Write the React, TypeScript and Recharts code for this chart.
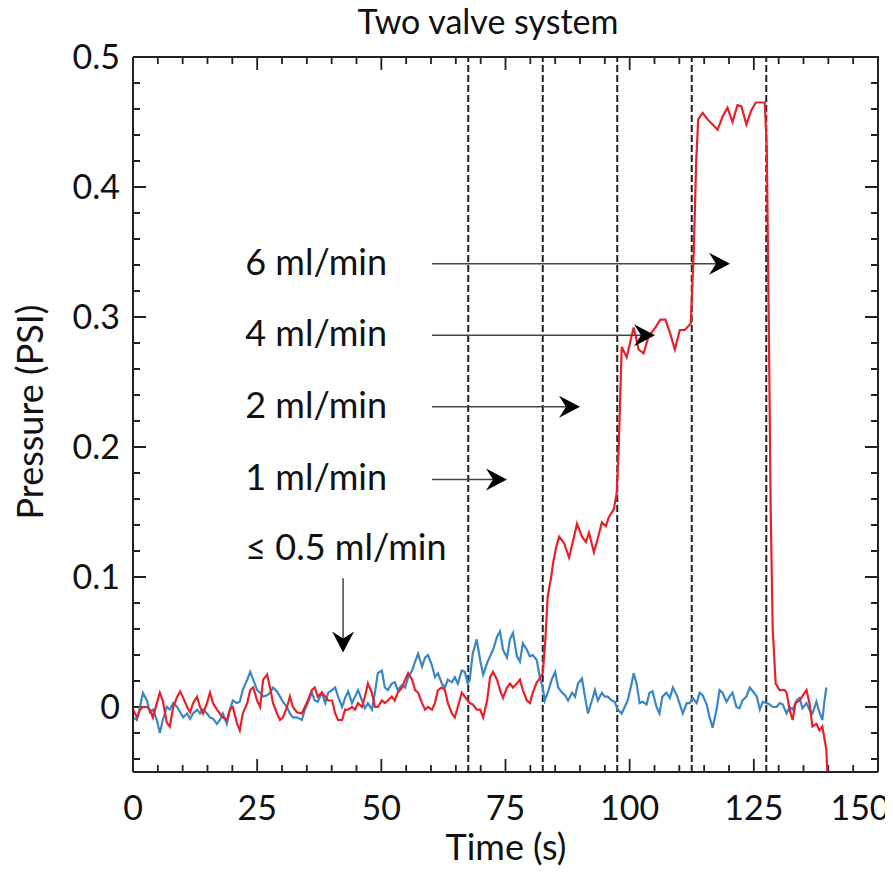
import { Line, LineChart, ReferenceDot, ReferenceLine, XAxis, YAxis } from "recharts"

// blue trace (s, PSI)
const blueTime = [
  0.0, 0.8, 1.4, 2.0, 2.8, 3.4, 4.0, 4.8, 5.4, 6.0,
  6.8, 7.4, 8.1, 8.9, 9.5, 10.1, 10.9, 11.5, 12.1, 12.9,
  13.5, 14.1, 14.9, 15.5, 16.1, 16.9, 17.5, 18.1, 18.9, 19.5,
  20.1, 20.9, 21.5, 22.1, 23.0, 23.6, 24.2, 25.0, 25.6, 26.2,
  27.0, 27.6, 28.2, 29.0, 29.6, 30.2, 31.0, 31.6, 32.2, 33.0,
  34.0, 34.6, 35.2, 36.0, 36.6, 37.2, 38.0, 38.7, 39.3, 40.1,
  40.7, 41.3, 42.1, 42.7, 43.3, 44.1, 44.7, 45.3, 46.1, 46.7,
  47.3, 48.1, 48.7, 49.3, 50.1, 50.7, 51.3, 52.1, 52.7, 53.3,
  54.2, 54.8, 55.4, 56.2, 56.8, 57.4, 58.2, 58.8, 59.4, 60.2,
  60.8, 61.4, 62.2, 62.8, 63.4, 64.2, 64.8, 65.4, 66.2, 66.8,
  67.4, 67.8, 68.4, 69.2, 69.9, 70.5, 71.3, 71.9, 72.5, 73.3,
  73.9, 74.5, 75.3, 75.9, 76.5, 77.3, 77.9, 78.5, 79.3, 79.9,
  80.5, 81.3, 81.9, 82.5, 82.9, 83.5, 84.3, 85.0, 85.6, 86.4,
  87.0, 87.6, 88.4, 89.0, 89.6, 90.4, 91.0, 91.6, 92.4, 93.0,
  93.6, 94.4, 95.0, 95.6, 96.4, 97.0, 97.6, 98.4, 99.0, 99.6,
  100.4, 100.8, 101.4, 102.0, 102.6, 103.4, 104.0, 104.6, 105.4, 106.0,
  106.6, 107.4, 108.1, 108.7, 109.5, 110.1, 110.7, 111.5, 112.1, 112.7,
  113.5, 114.1, 114.7, 115.5, 116.1, 116.7, 117.5, 118.1, 118.7, 119.5,
  120.1, 120.7, 121.5, 122.1, 122.7, 123.5, 124.2, 124.8, 125.6, 126.2,
  126.8, 127.6, 128.2, 128.8, 129.6, 130.2, 130.8, 131.6, 132.2, 132.8,
  133.6, 134.2, 134.8, 135.6, 136.2, 136.8, 137.6, 138.2, 138.8, 139.2,
  139.6,
]
const bluePressure = [
  -0.008, -0.01, 0.0, 0.011, 0.005, -0.004, -0.002, -0.01, -0.02, -0.01,
  0.0, -0.002, 0.003, 0.0, -0.004, -0.008, -0.005, -0.009, -0.005, -0.002,
  -0.005, -0.002, -0.005, -0.008, -0.009, -0.013, -0.01, -0.005, -0.013, -0.002,
  0.005, 0.003, 0.004, 0.013, 0.021, 0.027, 0.021, 0.013, 0.011, 0.008,
  0.009, 0.011, 0.015, 0.012, 0.008, 0.004, 0.0, -0.005, -0.008, -0.008,
  -0.01, -0.002, 0.003, 0.011, 0.005, 0.004, 0.011, 0.003, 0.011, 0.013,
  0.015, 0.008, 0.0, 0.007, 0.012, 0.003, 0.008, 0.013, 0.005, -0.001,
  0.003, -0.002, 0.011, 0.026, 0.028, 0.015, 0.013, 0.018, 0.019, 0.013,
  0.017, 0.015, 0.023, 0.028, 0.035, 0.041, 0.031, 0.038, 0.04, 0.032,
  0.023, 0.026, 0.018, 0.015, 0.021, 0.019, 0.023, 0.018, 0.028, 0.027,
  0.018, 0.021, 0.041, 0.052, 0.036, 0.025, 0.034, 0.039, 0.044, 0.054,
  0.058, 0.044, 0.038, 0.052, 0.057, 0.039, 0.035, 0.049, 0.044, 0.039,
  0.04, 0.036, 0.023, 0.015, 0.005, 0.011, 0.021, 0.027, 0.015, 0.011,
  0.009, 0.005, 0.011, 0.008, 0.018, 0.022, 0.008, -0.005, 0.005, 0.013,
  0.005, 0.011, 0.008, 0.008, 0.005, 0.004, -0.002, -0.005, 0.0, 0.005,
  0.018, 0.026, 0.018, 0.003, 0.004, 0.002, 0.011, 0.012, 0.0, -0.005,
  0.008, 0.011, 0.007, 0.015, 0.009, 0.002, -0.005, 0.003, 0.003, 0.007,
  0.003, 0.011, 0.009, 0.002, -0.008, -0.016, -0.002, 0.013, 0.011, 0.004,
  0.008, 0.011, 0.0, -0.001, 0.005, 0.008, 0.015, 0.012, 0.008, -0.002,
  0.004, 0.003, 0.002, 0.0, 0.0, 0.003, 0.002, -0.005, 0.0, -0.002,
  0.005, 0.007, -0.001, 0.003, -0.002, -0.005, 0.004, -0.004, -0.01, 0.004,
  0.015,
]

// red trace (s, PSI)
const redTime = [
  0.0, 0.8, 1.4, 2.0, 2.8, 3.4, 4.0, 4.8, 5.4, 6.0,
  6.8, 7.4, 8.1, 8.9, 9.5, 10.1, 10.9, 11.5, 12.1, 12.9,
  13.5, 14.1, 14.9, 15.5, 16.1, 16.9, 17.5, 18.1, 18.9, 19.5,
  20.1, 20.9, 21.5, 22.1, 23.0, 23.6, 24.2, 25.0, 25.6, 26.2,
  27.0, 27.6, 28.2, 29.0, 29.6, 30.2, 31.0, 31.6, 32.2, 33.0,
  34.0, 34.6, 35.2, 36.0, 36.6, 37.2, 38.0, 38.7, 39.3, 40.1,
  40.7, 41.3, 42.1, 42.7, 43.3, 44.1, 44.7, 45.3, 46.1, 46.7,
  47.3, 48.1, 48.7, 49.3, 50.1, 50.7, 51.3, 52.1, 52.7, 53.3,
  54.2, 54.8, 55.4, 56.2, 56.8, 57.4, 58.2, 58.8, 59.4, 60.2,
  60.8, 61.4, 62.2, 62.8, 63.4, 64.2, 64.8, 65.4, 66.2, 66.8,
  67.4, 67.8, 68.4, 69.2, 69.9, 70.5, 71.3, 71.9, 72.5, 73.3,
  73.9, 74.5, 75.3, 75.9, 76.5, 77.3, 77.9, 78.5, 79.3, 79.9,
  80.5, 81.3, 81.9, 82.5, 83.0, 83.5, 84.2, 84.6, 85.2, 85.8,
  86.8, 87.8, 88.8, 89.4, 90.4, 91.2, 91.8, 92.8, 93.4, 94.4,
  95.2, 95.8, 96.8, 97.4, 97.8, 98.2, 98.4, 99.4, 100.8, 101.8,
  102.8, 103.8, 105.2, 106.2, 107.2, 108.1, 109.1, 110.1, 111.1, 112.3,
  112.9, 113.4, 113.8, 114.7, 115.7, 116.7, 117.7, 118.7, 119.7, 120.7,
  121.7, 122.5, 123.5, 124.5, 125.4, 126.6, 127.2, 127.6, 128.0, 128.4,
  128.8, 129.4, 130.2, 131.2, 131.6, 132.2, 132.8, 133.4, 134.2, 135.6,
  136.2, 136.8, 137.6, 138.2, 138.8, 139.2, 139.6, 139.8,
]
const redPressure = [
  -0.002, -0.008, -0.002, 0.0, 0.0, -0.002, -0.008, 0.003, 0.011, 0.005,
  -0.012, -0.015, 0.0, 0.008, 0.012, 0.007, 0.0, -0.004, 0.003, 0.008,
  0.0, -0.005, 0.003, 0.011, 0.003, -0.002, -0.005, -0.008, -0.01, -0.002,
  0.0, -0.012, -0.018, -0.005, 0.003, 0.013, 0.015, 0.005, 0.0, 0.021,
  0.025, 0.015, 0.003, -0.005, -0.01, -0.008, 0.0, 0.008, 0.0, -0.004,
  -0.005, 0.0, 0.005, 0.013, 0.015, 0.008, 0.011, 0.008, 0.005, 0.005,
  -0.005, -0.01, -0.01, -0.002, -0.002, 0.0, -0.002, 0.003, 0.0, 0.008,
  0.018, 0.011, 0.0, 0.0, 0.005, 0.003, 0.005, 0.008, 0.005, 0.011,
  0.015, 0.021, 0.026, 0.021, 0.013, 0.011, 0.003, -0.002, 0.0, -0.002,
  0.003, 0.013, 0.015, 0.013, 0.003, -0.005, -0.008, 0.0, 0.011, 0.008,
  0.005, 0.003, 0.002, -0.002, -0.002, -0.008, 0.005, 0.023, 0.027, 0.021,
  0.013, 0.007, 0.015, 0.018, 0.015, 0.018, 0.021, 0.013, 0.005, 0.003,
  0.011, 0.019, 0.022, 0.026, 0.05, 0.085, 0.1, 0.111, 0.123, 0.131,
  0.126, 0.115, 0.131, 0.141, 0.131, 0.127, 0.134, 0.119, 0.127, 0.142,
  0.139, 0.146, 0.152, 0.165, 0.2, 0.252, 0.277, 0.269, 0.292, 0.275,
  0.272, 0.285, 0.292, 0.298, 0.298, 0.288, 0.275, 0.29, 0.29, 0.295,
  0.35, 0.42, 0.452, 0.457, 0.452, 0.448, 0.444, 0.454, 0.461, 0.45,
  0.463, 0.462, 0.448, 0.459, 0.465, 0.465, 0.465, 0.43, 0.3, 0.15,
  0.06, 0.018, 0.013, 0.013, 0.011, -0.002, -0.01, 0.003, 0.005, 0.013,
  0.003, -0.015, -0.013, -0.018, -0.015, -0.024, -0.033, -0.05,
]

const xTicks = [0, 5, 10, 15, 20, 25, 30, 35, 40, 45, 50, 55, 60, 65, 70, 75, 80, 85, 90, 95, 100, 105, 110, 115, 120, 125, 130, 135, 140, 145, 150]
const yTicks = [-0.04, -0.02, 0, 0.02, 0.04, 0.06, 0.08, 0.1, 0.12, 0.14, 0.16, 0.18, 0.2, 0.22, 0.24, 0.26, 0.28, 0.3, 0.32, 0.34, 0.36, 0.38, 0.4, 0.42, 0.44, 0.46, 0.48, 0.5]

// valve switch times (dashed lines)
const valveTimes = [67.5, 82.5, 97.5, 112.5, 127.5]

// flow annotations
const flowLabels = ["6 ml/min", "4 ml/min", "2 ml/min", "1 ml/min"]
const flowLabelY = [0.342, 0.288, 0.232, 0.177]
const flowArrowY = [0.341, 0.286, 0.231, 0.175]
const flowArrowEnd = [120.2, 105.1, 90.0, 75.3]
const flowArrowStart = 60.2
const flowLabelX = 22.6
const lowFlowLabel = "≤ 0.5 ml/min"
const lowFlowLabelY = 0.123
const lowFlowArrow = { x: 42.3, from: 0.099, to: 0.042 }

const X_MIN = 0
const X_MAX = 150
const Y_MIN = -0.05
const Y_MAX = 0.5

const blueData = blueTime.map((t, i) => ({ t, p: bluePressure[i] }))
const redData = redTime.map((t, i) => ({ t, p: redPressure[i] }))

const W = 885
const H = 864
const MARGIN = { top: 49, right: 15, bottom: 40, left: 45 }
const PLOT_LEFT = 125

// plot is 745 x 715 px, so one pixel in data units:
const PX_X = (X_MAX - X_MIN) / 745
const PX_Y = (Y_MAX - Y_MIN) / 715

const INK = "#222"
const FONT = "Lato, 'Open Sans', sans-serif"
const TICK_FONT = 34
const TEXT_FONT = 36

const isMajorX = (v: number) => v % 25 === 0
const isMajorY = (v: number) => Math.abs(v * 10 - Math.round(v * 10)) < 1e-6
const tickLen = (major: boolean) => (major ? 13 : 7)

// top and right edges of the box
const frameData = [
  { t: X_MIN, p: Y_MAX },
  { t: X_MAX, p: Y_MAX },
  { t: X_MAX, p: Y_MIN },
]

// inward tick marks on all four sides, as broken polylines (null = gap)
const tickData: { t: number; p: number | null }[] = []
xTicks.forEach((v) => {
  const d = tickLen(isMajorX(v)) * PX_Y
  tickData.push({ t: v, p: Y_MIN }, { t: v, p: Y_MIN + d }, { t: v, p: null })
  tickData.push({ t: v, p: Y_MAX }, { t: v, p: Y_MAX - d }, { t: v, p: null })
})
yTicks.forEach((v) => {
  const d = tickLen(isMajorY(v)) * PX_X
  tickData.push({ t: X_MIN, p: v }, { t: X_MIN + d, p: v }, { t: X_MIN + d, p: null })
  tickData.push({ t: X_MAX, p: v }, { t: X_MAX - d, p: v }, { t: X_MAX - d, p: null })
})

function BottomLabel({ x, payload }: any) {
  const v = payload.value
  if (!isMajorX(v)) return <g />
  return (
    <text x={v === 150 ? x - 18 : x} y={764 + 48} textAnchor="middle" fontSize={TICK_FONT} fontFamily={FONT} fill="#111">
      {v}
    </text>
  )
}

function LeftLabel({ y, payload }: any) {
  const v = payload.value
  if (!isMajorY(v)) return <g />
  return (
    <text x={PLOT_LEFT - 13} y={y + 12} textAnchor="end" fontSize={TICK_FONT} fontFamily={FONT} fill="#111">
      {Math.abs(v) < 1e-9 ? "0" : v.toFixed(1)}
    </text>
  )
}

function Arrow({ x1, y1, x2, y2 }: any) {
  const ang = Math.atan2(y2 - y1, x2 - x1)
  const len = 21
  const half = 11
  const notch = 14
  const ux = Math.cos(ang)
  const uy = Math.sin(ang)
  const bx = x2 - ux * len
  const by = y2 - uy * len
  const pts = [
    [x2, y2],
    [bx - uy * half, by + ux * half],
    [x2 - ux * notch, y2 - uy * notch],
    [bx + uy * half, by - ux * half],
  ]
  return (
    <g>
      <line x1={x1} y1={y1} x2={x2 - ux * notch} y2={y2 - uy * notch} stroke="#444" strokeWidth={1.5} />
      <polygon points={pts.map((p) => p.join(",")).join(" ")} fill="#000" />
    </g>
  )
}

function Note({ cx, cy, text }: any) {
  return (
    <text x={cx} y={cy} dy={13} fontSize={TEXT_FONT} fontFamily={FONT} fill="#111">
      {text}
    </text>
  )
}

export default function App() {
  return (
    <div style={{ position: "relative", width: W, height: H }}>
      <LineChart width={W} height={H} margin={MARGIN}>
        <XAxis
          dataKey="t"
          type="number"
          domain={[X_MIN, X_MAX]}
          ticks={xTicks}
          interval={0}
          height={60}
          tickLine={false}
          axisLine={{ stroke: INK, strokeWidth: 2 }}
          tick={BottomLabel}
          label={{
            content: () => (
              <text x={498} y={852} textAnchor="middle" fontSize={TEXT_FONT} fontFamily={FONT} fill="#111">
                Time (s)
              </text>
            ),
          }}
        />
        <YAxis
          type="number"
          domain={[Y_MIN, Y_MAX]}
          ticks={yTicks}
          interval={0}
          width={80}
          tickLine={false}
          axisLine={{ stroke: INK, strokeWidth: 2 }}
          tick={LeftLabel}
          label={{
            content: () => (
              <text x={35} y={404} transform="rotate(-90, 35, 404)" textAnchor="middle" fontSize={TEXT_FONT} fontFamily={FONT} fill="#111">
                Pressure (PSI)
              </text>
            ),
          }}
        />
        {valveTimes.map((v) => (
          <ReferenceLine key={"valve" + v} x={v} stroke="#222" strokeWidth={2} strokeDasharray="7 3" />
        ))}
        <Line data={frameData} dataKey="p" type="linear" stroke={INK} strokeWidth={2} dot={false} activeDot={false} isAnimationActive={false} />
        <Line data={tickData} dataKey="p" type="linear" stroke={INK} strokeWidth={1.8} dot={false} activeDot={false} connectNulls={false} isAnimationActive={false} />
        <Line data={blueData} dataKey="p" type="linear" stroke="#3a86c6" strokeWidth={2.2} dot={false} isAnimationActive={false} />
        <Line data={redData} dataKey="p" type="linear" stroke="#e8202a" strokeWidth={2.2} dot={false} isAnimationActive={false} />
        {flowLabels.map((label, i) => (
          <ReferenceDot key={label} x={flowLabelX} y={flowLabelY[i]} r={0} shape={(p: any) => <Note {...p} text={label} />} />
        ))}
        {flowLabels.map((label, i) => (
          <ReferenceLine
            key={label + "-arrow"}
            segment={[
              { x: flowArrowStart, y: flowArrowY[i] },
              { x: flowArrowEnd[i], y: flowArrowY[i] },
            ]}
            shape={(p: any) => <Arrow {...p} />}
          />
        ))}
        <ReferenceDot x={flowLabelX} y={lowFlowLabelY} r={0} shape={(p: any) => <Note {...p} text={lowFlowLabel} />} />
        <ReferenceLine
          segment={[
            { x: lowFlowArrow.x, y: lowFlowArrow.from },
            { x: lowFlowArrow.x, y: lowFlowArrow.to },
          ]}
          shape={(p: any) => <Arrow {...p} />}
        />
      </LineChart>
      <div
        style={{
          position: "absolute",
          left: 280,
          top: -4,
          width: 400,
          textAlign: "center",
          fontFamily: FONT,
          fontSize: 34,
          lineHeight: "34px",
          color: "#111",
          whiteSpace: "nowrap",
        }}
      >
        Two valve system
      </div>
    </div>
  )
}
